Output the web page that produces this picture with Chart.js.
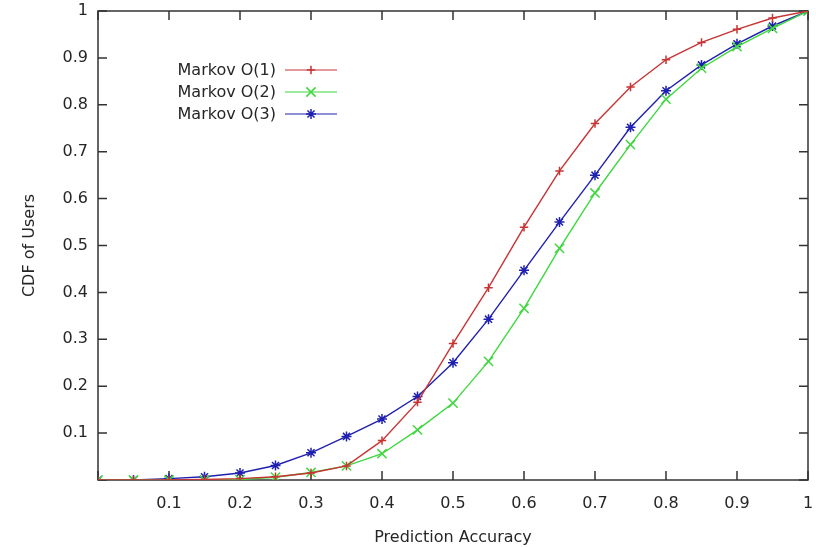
<!DOCTYPE html>
<html>
<head>
<meta charset="utf-8">
<script src="https://cdn.jsdelivr.net/npm/chart.js@4.4.1/dist/chart.umd.min.js"></script>
<style>
  html, body { margin: 0; padding: 0; background: #ffffff; }
  #wrap { width: 816px; height: 547px; position: relative; }
</style>
</head>
<body>
<div id="wrap"><canvas id="c"></canvas></div>
<script>
// ---- data ----
const accuracy = [0, 0.05, 0.1, 0.15, 0.2, 0.25, 0.3, 0.35, 0.4, 0.45, 0.5, 0.55, 0.6, 0.65, 0.7, 0.75, 0.8, 0.85, 0.9, 0.95, 1];
const markov1 = [0, 0, 0, 0.001, 0.003, 0.007, 0.015, 0.03, 0.084, 0.166, 0.291, 0.41, 0.539, 0.659, 0.76, 0.838, 0.896, 0.933, 0.961, 0.985, 1];
const markov2 = [0, 0, 0, 0, 0.001, 0.006, 0.016, 0.03, 0.056, 0.107, 0.164, 0.253, 0.366, 0.494, 0.612, 0.715, 0.812, 0.878, 0.924, 0.963, 1];
const markov3 = [0, 0, 0.003, 0.007, 0.015, 0.031, 0.058, 0.093, 0.13, 0.178, 0.25, 0.343, 0.447, 0.55, 0.65, 0.752, 0.83, 0.885, 0.93, 0.968, 1];
const seriesLabels = ['Markov O(1)', 'Markov O(2)', 'Markov O(3)'];
const xTitle = 'Prediction Accuracy';
const yTitle = 'CDF of Users';

const colors = ['#c83434', '#3ed83e', '#2020b0'];
const markers = ['cross', 'crossRot', 'star'];
const markerSizes = [4.2, 6.5, 5];

function toPoints(ys) { return accuracy.map((x, i) => ({ x: x, y: ys[i] })); }

Chart.defaults.font.family = "'DejaVu Sans', sans-serif";
Chart.defaults.font.size = 16;
Chart.defaults.color = '#262626';

const datasets = [markov1, markov2, markov3].map((ys, i) => ({
  label: seriesLabels[i],
  data: toPoints(ys),
  borderColor: colors[i],
  backgroundColor: colors[i],
  borderWidth: 1.4,
  pointStyle: markers[i],
  pointRadius: markerSizes[i],
  pointBorderWidth: 1.5,
  pointHoverRadius: markerSizes[i],
  tension: 0,
  fill: false
}));

function fmt(v) {
  if (Math.abs(v) < 1e-9) return '';
  return String(Number(v.toFixed(1)));
}

function zeroPad(s) {
  s.paddingLeft = 0; s.paddingRight = 0; s.paddingTop = 0; s.paddingBottom = 0;
}

const framePlugin = {
  id: 'frame',
  beforeDatasetsDraw(chart) {
    const { ctx, chartArea: a, scales } = chart;
    ctx.save();
    ctx.strokeStyle = '#333333';
    ctx.lineWidth = 1.5;
    ctx.strokeRect(a.left, a.top, a.right - a.left, a.bottom - a.top);
    const tl = 9;
    ctx.beginPath();
    scales.x.ticks.forEach(t => {
      const px = scales.x.getPixelForValue(t.value);
      ctx.moveTo(px, a.bottom); ctx.lineTo(px, a.bottom - tl);
      ctx.moveTo(px, a.top); ctx.lineTo(px, a.top + tl);
    });
    scales.y.ticks.forEach(t => {
      const py = scales.y.getPixelForValue(t.value);
      ctx.moveTo(a.left, py); ctx.lineTo(a.left + tl, py);
      ctx.moveTo(a.right, py); ctx.lineTo(a.right - tl, py);
    });
    ctx.stroke();
    ctx.restore();
  },
  afterDatasetsDraw(chart) {
    // key box: text right-aligned, sample line + marker on its right
    const { ctx } = chart;
    const textRight = 276, lineL = 285, lineR = 337, markX = 311;
    const rows = [70, 92, 114];
    ctx.save();
    ctx.font = "16px 'DejaVu Sans', sans-serif";
    ctx.textAlign = 'right';
    ctx.textBaseline = 'middle';
    chart.data.datasets.forEach((ds, i) => {
      const y = rows[i];
      ctx.fillStyle = '#262626';
      ctx.fillText(ds.label, textRight, y + 1);
      ctx.strokeStyle = ds.borderColor;
      ctx.lineWidth = 1.2;
      ctx.beginPath();
      ctx.moveTo(lineL, y); ctx.lineTo(lineR, y);
      ctx.stroke();
      ctx.fillStyle = ds.borderColor;
      ctx.lineWidth = 1.5;
      Chart.helpers.drawPoint(ctx, { pointStyle: ds.pointStyle, radius: ds.pointRadius, rotation: 0, borderWidth: 1.5 }, markX, y);
    });
    ctx.restore();
  }
};

new Chart(document.getElementById('c'), {
  type: 'line',
  data: { datasets },
  options: {
    responsive: true,
    maintainAspectRatio: false,
    animation: false,
    layout: { padding: { top: 11, right: 7, left: 0, bottom: 0 } },
    plugins: {
      legend: { display: false },
      tooltip: { enabled: false },
      title: { display: false }
    },
    scales: {
      x: {
        type: 'linear',
        min: 0, max: 1,
        grid: { display: false, drawTicks: false },
        border: { display: false },
        ticks: { stepSize: 0.1, autoSkip: false, maxRotation: 0, padding: 14, callback: v => fmt(v) },
        title: { display: true, text: xTitle, padding: { top: 0, bottom: 0 } },
        afterFit: s => { s.height = 67; zeroPad(s); }
      },
      y: {
        type: 'linear',
        min: 0, max: 1,
        grid: { display: false, drawTicks: false },
        border: { display: false },
        ticks: { stepSize: 0.1, autoSkip: false, padding: 10, callback: v => fmt(v) },
        title: { display: true, text: yTitle, padding: { top: 20, bottom: 0 } },
        afterFit: s => { s.width = 98; zeroPad(s); }
      }
    }
  },
  plugins: [framePlugin]
});
</script>
</body>
</html>
